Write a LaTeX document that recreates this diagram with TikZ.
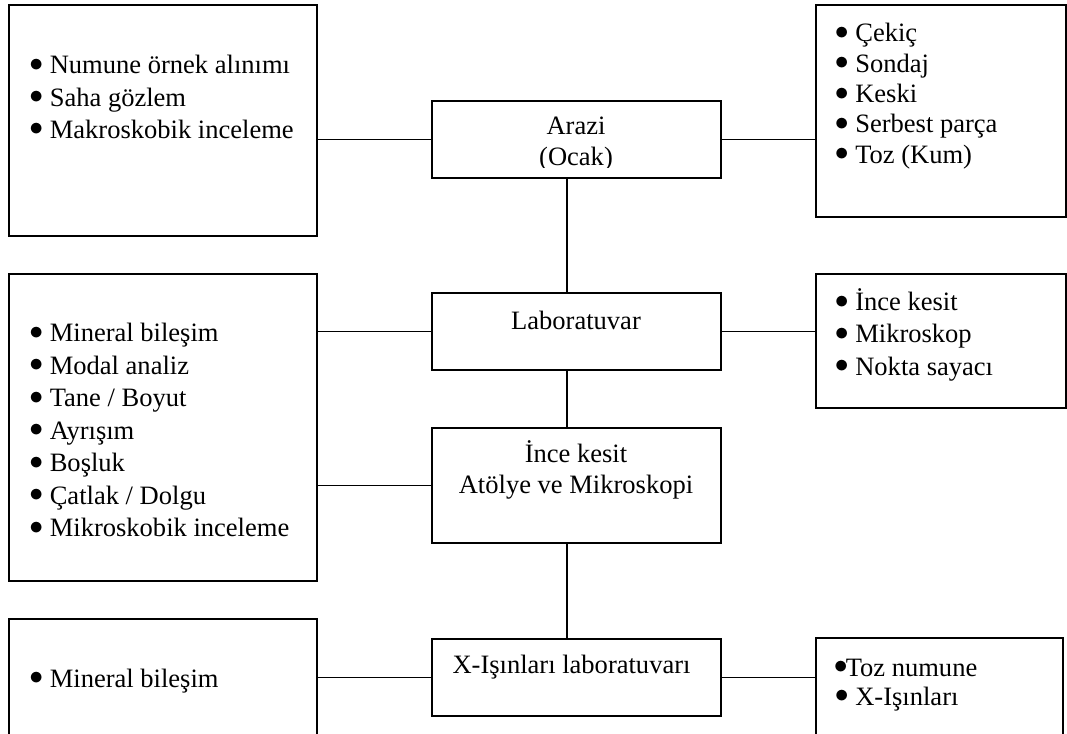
\documentclass[tikz,border=0pt]{standalone}
\usepackage{fontspec}
\setmainfont{Liberation Serif}
\newcommand\fs{\fontsize{19.9pt}{24pt}\selectfont}
\newcommand\bl[1]{\makebox[15.4pt][l]{\raisebox{1.8pt}{$\bullet$}}#1}
\begin{document}
\begin{tikzpicture}[x=0.75pt,y=-0.75pt,
  box/.style={draw,line width=1.4pt,inner sep=0pt,outer sep=0pt},
  sz/.style 2 args={minimum width={#1*0.75pt},minimum height={#2*0.75pt}},
  conn/.style={line width=0.9pt},
  txt/.style={anchor=base west,inner sep=0pt,font=\fs},
  ctxt/.style={anchor=base,inner sep=0pt,font=\fs}]
\useasboundingbox (0,0) rectangle (1067,734);
\fill[white] (0,0) rectangle (1067,734);
\clip (0,0) rectangle (1067,734);
% boxes
\node[box,sz={308}{231}] (L1) at (163,120.5) {};
\node[box,sz={289}{77}] (A) at (576.5,139.5) {};
\node[box,sz={250}{212}] (R1) at (941,111) {};
\node[box,sz={308}{307}] (L2) at (163,427.5) {};
\node[box,sz={289}{77}] (Lab) at (576.5,331.5) {};
\node[box,sz={250}{134}] (R2) at (941,341) {};
\node[box,sz={289}{115}] (In) at (576.5,485.5) {};
\node[box,sz={289}{77}] (X) at (576.5,677.5) {};
\node[box,sz={308}{160}] (L3) at (163,699) {};
\node[box,sz={247}{140}] (R3) at (939.75,708) {};
% connectors
\coordinate (sp) at (567,0);
\draw[conn] (A.west) -- (A.west -| L1.east);
\draw[conn] (A.east) -- (A.east -| R1.west);
\draw[conn] (Lab.west) -- (Lab.west -| L2.east);
\draw[conn] (Lab.east) -- (Lab.east -| R2.west);
\draw[conn] (In.west) -- (In.west -| L2.east);
\draw[conn] (X.west) -- (X.west -| L3.east);
\draw[conn] (X.east) -- (X.east -| R3.west);
\draw[conn] (A.south -| sp) -- (Lab.north -| sp);
\draw[conn] (Lab.south -| sp) -- (In.north -| sp);
\draw[conn] (In.south -| sp) -- (X.north -| sp);
% centre texts
\begin{scope}
\clip (432,101) rectangle (721,167.5);
\node[ctxt] (a1) at (576,135) {Arazi};
\node[ctxt] (a2) at (576,166) {(Ocak)};
\end{scope}
\node[ctxt] (lab1) at (576,329.3) {Laboratuvar};
\node[ctxt] (in1) at (576,462.7) {İnce kesit};
\node[ctxt] (in2) at (576,493.3) {Atölye ve Mikroskopi};
\node[ctxt] (x1) at (571.5,673.3) {X-Işınları laboratuvarı};
% list texts
\foreach \t [count=\i] in {Numune örnek alınımı,Saha gözlem,Makroskobik inceleme}{
  \node[txt] (l1t\i) at (29,{74+32.2*(\i-1)}) {\bl{\t}};
}
\foreach \t [count=\i] in {Çekiç,Sondaj,Keski,Serbest parça,Toz (Kum)}{
  \node[txt] (r1t\i) at (834.5,{41.7+30.4*(\i-1)}) {\bl{\t}};
}
\foreach \t [count=\i] in {Mineral bileşim,Modal analiz,Tane / Boyut,Ayrışım,Boşluk,Çatlak / Dolgu,Mikroskobik inceleme}{
  \node[txt] (l2t\i) at (29,{341.7+32.5*(\i-1)}) {\bl{\t}};
}
\foreach \t [count=\i] in {İnce kesit,Mikroskop,Nokta sayacı}{
  \node[txt] (r2t\i) at (834.5,{310.7+32.2*(\i-1)}) {\bl{\t}};
}
\node[txt] (l3t1) at (29,687) {\bl{Mineral bileşim}};
\node[txt] (r3t1) at (833.5,676) {\makebox[9pt][l]{\raisebox{1.8pt}{$\bullet$}}Toz numune};
\node[txt] (r3t2) at (834.5,705) {\bl{X-Işınları}};
\end{tikzpicture}
\end{document}
